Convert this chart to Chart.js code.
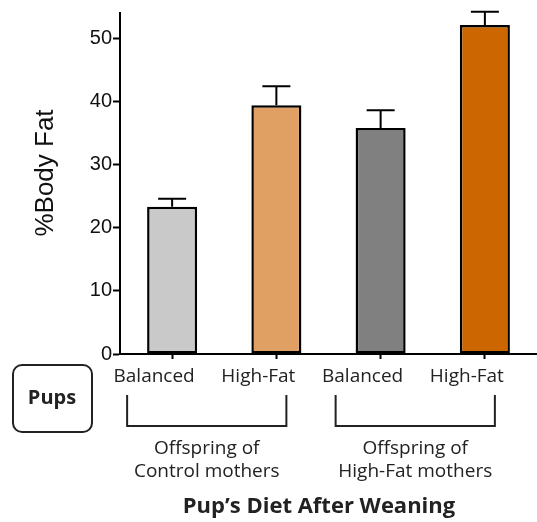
<!DOCTYPE html>
<html>
<head>
<meta charset="utf-8">
<script src="https://cdn.jsdelivr.net/npm/chart.js@4"></script>
<style>
    html, body { margin: 0; padding: 0; background: #ffffff; }
    #wrap { width: 537px; height: 522px; }
</style>
</head>
<body>
<div id="wrap"><canvas id="bodyFatChart" width="537" height="522"></canvas></div>
<script>
const pupDiets = ['Balanced', 'High-Fat', 'Balanced', 'High-Fat'];
const bodyFat = [23.3, 39.4, 35.8, 52.1];
const errorUpper = [1.3, 3.0, 2.8, 2.1];
const barColors = ['#c9c9c9', '#e0a064', '#808080', '#cc6600'];
const yTicks = [0, 10, 20, 30, 40, 50];
const motherGroups = [
    ['Offspring of', 'Control mothers'],
    ['Offspring of', 'High-Fat mothers'],
];
const yTitle = '%Body Fat';
const xTitle = 'Pup\u2019s Diet After Weaning';
const rowLabel = 'Pups';

const annotationsPlugin = {
    id: 'annotations',
    afterDatasetsDraw(chart) {
        const ctx = chart.ctx;
        const xScale = chart.scales.x;
        const yScale = chart.scales.y;

        // error bars (upper half only)
        ctx.save();
        ctx.strokeStyle = '#000';
        ctx.lineWidth = 2;
        bodyFat.forEach((value, i) => {
            const x = xScale.getPixelForValue(i);
            const yTop = yScale.getPixelForValue(value + errorUpper[i]);
            const yBar = yScale.getPixelForValue(value);
            ctx.beginPath();
            ctx.moveTo(x, yBar);
            ctx.lineTo(x, yTop);
            ctx.moveTo(x - 14, yTop);
            ctx.lineTo(x + 14, yTop);
            ctx.stroke();
        });
        ctx.restore();
    },
    afterDraw(chart) {
        const ctx = chart.ctx;
        const xScale = chart.scales.x;

        ctx.save();

        // y axis title
        ctx.fillStyle = '#111';
        ctx.font = '26px "Liberation Sans", Arial, sans-serif';
        ctx.textAlign = 'center';
        ctx.textBaseline = 'middle';
        ctx.translate(46, 173);
        ctx.rotate(-Math.PI / 2);
        ctx.fillText(yTitle, 0, 0);
        ctx.setTransform(1, 0, 0, 1, 0, 0);

        // Pups box
        ctx.strokeStyle = '#222';
        ctx.lineWidth = 2;
        ctx.beginPath();
        ctx.roundRect(13, 365, 79, 67, 9);
        ctx.stroke();
        ctx.fillStyle = '#222';
        ctx.font = 'bold 20px "Open Sans", sans-serif';
        ctx.fillText(rowLabel, 52, 398);

        // brackets and group labels
        ctx.font = '19px "Open Sans", sans-serif';
        motherGroups.forEach((lines, g) => {
            const left = xScale.getPixelForValue(g * 2) - 45;
            const right = xScale.getPixelForValue(g * 2 + 1) + 10;
            ctx.beginPath();
            ctx.moveTo(left, 395);
            ctx.lineTo(left, 426);
            ctx.lineTo(right, 426);
            ctx.lineTo(right, 395);
            ctx.stroke();
            const mid = (left + right) / 2;
            lines.forEach((text, k) => {
                ctx.fillText(text, mid, 449 + k * 23);
            });
        });

        // x title
        ctx.font = 'bold 22px "Open Sans", sans-serif';
        ctx.fillText(xTitle, 319, 507);

        ctx.restore();
    },
};

new Chart(document.getElementById('bodyFatChart'), {
    type: 'bar',
    data: {
        labels: pupDiets,
        datasets: [{
            data: bodyFat,
            backgroundColor: barColors,
            borderColor: '#000',
            borderWidth: 2.5,
            borderSkipped: false,
            barPercentage: 0.48,
            categoryPercentage: 1,
        }],
    },
    options: {
        responsive: false,
        animation: false,
        layout: {
            padding: { top: 12, right: 0, left: 0, bottom: 0 },
        },
        plugins: {
            legend: { display: false },
            tooltip: { enabled: false },
        },
        scales: {
            y: {
                min: 0,
                max: 54,
                afterBuildTicks: (scale) => {
                    scale.ticks = yTicks.map((v) => ({ value: v }));
                },
                afterFit: (scale) => {
                    scale.width = 120;
                },
                border: { color: '#000', width: 2 },
                grid: {
                    drawOnChartArea: false,
                    tickLength: 7,
                    tickWidth: 2,
                    tickColor: '#000',
                },
                ticks: {
                    padding: 1,
                    color: '#111',
                    font: { family: '"Liberation Sans", Arial, sans-serif', size: 20 },
                },
            },
            x: {
                afterFit: (scale) => {
                    scale.height = 168;
                },
                border: { color: '#000', width: 2 },
                grid: {
                    offset: false,
                    drawOnChartArea: false,
                    tickLength: 5,
                    tickWidth: 2,
                    tickColor: '#000',
                },
                ticks: {
                    padding: 6,
                    labelOffset: -18,
                    color: '#222',
                    maxRotation: 0,
                    font: { family: '"Open Sans", sans-serif', size: 19 },
                },
            },
        },
    },
    plugins: [annotationsPlugin],
});
</script>
</body>
</html>
